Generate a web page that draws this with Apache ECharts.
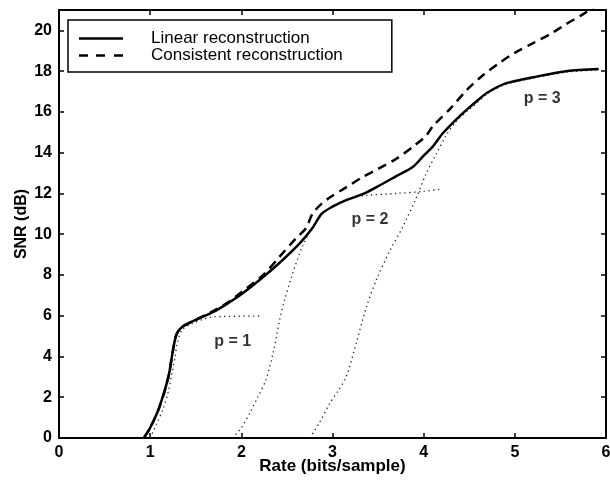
<!DOCTYPE html>
<html>
<head>
<meta charset="utf-8">
<script src="https://cdn.jsdelivr.net/npm/echarts@6/dist/echarts.min.js"></script>
<style>html,body{margin:0;padding:0;background:#fff}#c{width:610px;height:481px}</style>
</head>
<body>
<div id="c"></div>
<script>
const xTicks = [0, 1, 2, 3, 4, 5, 6];
const yTicks = [0, 2, 4, 6, 8, 10, 12, 14, 16, 18, 20];
const linearRecon = [[0.93,0],[1.0,0.5],[1.1,1.5],[1.2,3.0],[1.25,4.3],[1.29,5.1],[1.35,5.45],[1.5,5.8],[1.7,6.2],[1.85,6.6],[2.0,7.05],[2.2,7.75],[2.42,8.6],[2.64,9.55],[2.78,10.3],[2.88,11.0],[3.0,11.35],[3.15,11.67],[3.35,12.0],[3.52,12.4],[3.7,12.85],[3.88,13.3],[4.0,13.85],[4.1,14.3],[4.21,14.95],[4.35,15.6],[4.47,16.1],[4.6,16.6],[4.7,16.95],[4.9,17.4],[5.2,17.7],[5.56,18.0],[5.92,18.1]];
const consistentRecon = [[0.93,0],[1.0,0.5],[1.1,1.5],[1.2,3.0],[1.25,4.3],[1.29,5.1],[1.35,5.45],[1.5,5.8],[1.7,6.25],[1.85,6.65],[2.0,7.15],[2.24,8.0],[2.42,8.9],[2.6,9.8],[2.71,10.3],[2.78,11.0],[2.87,11.45],[2.97,11.8],[3.15,12.3],[3.33,12.8],[3.5,13.2],[3.7,13.7],[3.9,14.35],[4.03,14.85],[4.1,15.3],[4.3,16.2],[4.47,17.06],[4.65,17.8],[4.83,18.4],[5.0,18.9],[5.19,19.35],[5.4,19.85],[5.56,20.3],[5.75,20.8],[5.9,21.25]];
const p1Curve = [[1.0,0],[1.07,0.7],[1.14,1.4],[1.2,2.3],[1.24,3.2],[1.27,3.9],[1.3,4.7],[1.35,5.3],[1.45,5.6],[1.6,5.85],[1.7,5.95],[2.2,5.98]];
const p2Curve = [[1.9,0],[2.0,0.5],[2.09,1.2],[2.18,2.0],[2.27,2.85],[2.35,4.2],[2.42,5.8],[2.47,6.7],[2.55,7.9],[2.67,9.4],[2.78,10.35],[2.88,10.95],[3.0,11.35],[3.15,11.7],[3.37,11.9],[3.7,12.0],[4.0,12.1],[4.17,12.2]];
const p3Curve = [[2.75,0],[2.85,0.7],[2.97,1.7],[3.06,2.3],[3.15,3.0],[3.26,4.65],[3.37,6.4],[3.48,7.75],[3.63,9.2],[3.77,10.35],[3.92,11.8],[4.03,13.0],[4.14,13.95],[4.24,14.8],[4.35,15.5],[4.47,16.0],[4.6,16.5],[4.7,16.9],[4.9,17.35],[5.2,17.65],[5.56,17.95],[5.9,18.05]];
const pLabels = [[1.905,4.72,'p = 1'],[3.41,10.7,'p = 2'],[5.3,16.65,'p = 3']];

const FONT = 'Liberation Sans, Arial, Helvetica, sans-serif';
const chart = echarts.init(document.getElementById('c'));
const dotted = {color:'#222', width:1.3, type:[1.3,3.5]};
const tickAxisCommon = {
  axisLine:{show:true, onZero:false, lineStyle:{color:'#000', width:2}},
  axisTick:{show:true, inside:true, length:5, lineStyle:{color:'#000', width:1.5}},
  splitLine:{show:false},
  nameMoveOverlap:false
};
const solidIcon = 'path://M0,0H44V1H0Z';
const dashIcon = 'path://M0,0H9V1H0Z M17,0H26V1H17Z M35,0H44V1H35Z';
chart.setOption({
  animation:false,
  backgroundColor:'#fff',
  grid:{left:59, right:4, top:10, bottom:43, containLabel:false, outerBoundsMode:'none'},
  legend:{
    data:[{name:'Linear reconstruction', icon:solidIcon},{name:'Consistent reconstruction', icon:dashIcon}],
    orient:'vertical', left:68, top:20,
    itemWidth:44, itemHeight:2.5, itemGap:0, symbolKeepAspect:false,
    padding:[10, 49, 8, 11],
    borderColor:'#000', borderWidth:1.5,
    itemStyle:{color:'#000', borderWidth:0},
    lineStyle:{width:0},
    textStyle:{fontFamily:FONT, fontSize:17, color:'#000', padding:[0,0,0,23]}
  },
  xAxis:[
    Object.assign({type:'value', min:0, max:6, interval:1, position:'bottom',
      name:'Rate (bits/sample)', nameLocation:'middle', nameGap:20,
      nameTextStyle:{fontFamily:FONT, fontSize:17, fontWeight:'bold', color:'#000'},
      axisLabel:{fontFamily:FONT, fontSize:16, fontWeight:'bold', color:'#000', margin:7,
        formatter:v=> xTicks.includes(v) ? String(v) : ''}}, tickAxisCommon),
    Object.assign({type:'value', min:0, max:6, interval:1, position:'top',
      axisLabel:{show:false}}, tickAxisCommon)
  ],
  yAxis:[
    Object.assign({type:'value', min:0, max:21, interval:2, position:'left',
      name:'SNR (dB)', nameLocation:'middle', nameGap:29,
      nameTextStyle:{fontFamily:FONT, fontSize:16, fontWeight:'bold', color:'#000'},
      axisLabel:{fontFamily:FONT, fontSize:16, fontWeight:'bold', color:'#000', margin:7,
        showMaxLabel:false, formatter:v=> yTicks.includes(v) ? String(v) : ''}}, tickAxisCommon),
    Object.assign({type:'value', min:0, max:21, interval:2, position:'right',
      axisLabel:{show:false}}, tickAxisCommon)
  ],
  series:[
    {name:'p1', type:'line', data:p1Curve, symbol:'none', smooth:0.3, lineStyle:dotted, z:1},
    {name:'p2', type:'line', data:p2Curve, symbol:'none', smooth:0.3, lineStyle:dotted, z:1},
    {name:'p3', type:'line', data:p3Curve, symbol:'none', smooth:0.3, lineStyle:dotted, z:1},
    {name:'Consistent reconstruction', type:'line', data:consistentRecon, symbol:'none', smooth:0.3,
      clip:true, color:'#000', lineStyle:{color:'#000', width:2.5, type:[9,6]}, z:3},
    {name:'Linear reconstruction', type:'line', data:linearRecon, symbol:'none', smooth:0.3,
      color:'#000', lineStyle:{color:'#000', width:2.5, type:'solid'}, z:4},
    {name:'labels', type:'scatter', data:pLabels, symbolSize:0, silent:true, itemStyle:{color:'#000'},
      label:{show:true, position:'inside', formatter:p=>p.data[2],
        fontFamily:FONT, fontSize:16, fontWeight:'bold', color:'#000'}}
  ]
});
</script>
</body>
</html>
